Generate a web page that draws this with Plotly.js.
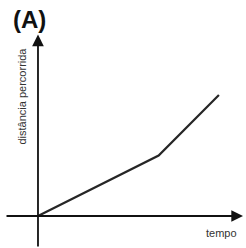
<!DOCTYPE html>
<html>
<head>
<meta charset="utf-8">
<script src="https://cdn.plot.ly/plotly-3.0.1.min.js"></script>
<style>html,body{margin:0;padding:0;background:#fff;}#chart{width:246px;height:248px;}</style>
</head>
<body>
<div id="chart"></div>
<script>
// Data: distance travelled vs time (arbitrary units)
const tempo = [0, 2, 3];
const distancia = [0, 1, 2];
const panelLabel = "(A)";
const xLabel = "tempo";
const yLabel = "distância percorrida";

const W = 246, H = 248;
const xRange = [-0.63, 3.449];
const yRange = [-0.529, 3.57];

const trace = {
  x: tempo, y: distancia, type: "scatter", mode: "lines",
  line: {color: "#262626", width: 2.2}, hoverinfo: "skip"
};

function arrow(x, y, ax, ay) {
  return {x: x, y: y, ax: ax, ay: ay, xref: "x", yref: "y", axref: "x", ayref: "y",
    text: "", showarrow: true, arrowhead: 2, arrowsize: 1.3, arrowwidth: 1.8, arrowcolor: "#111", standoff: 0, startstandoff: 0};
}

const layout = {
  width: W, height: H,
  margin: {l: 0, r: 0, t: 0, b: 0},
  paper_bgcolor: "#fff", plot_bgcolor: "#fff",
  showlegend: false,
  xaxis: {range: xRange, visible: false, fixedrange: true},
  yaxis: {range: yRange, visible: false, fixedrange: true},
  annotations: [
    arrow(3.40, 0, -0.547, 0),
    arrow(0, 3.0, 0, -0.53),
    {xref: "paper", yref: "paper", x: 29/W, y: 1 - 19/H, text: "<b>" + panelLabel + "</b>", showarrow: false,
     font: {family: "Liberation Sans, Arial, sans-serif", size: 24, color: "#111"}, xanchor: "center", yanchor: "middle"},
    {xref: "paper", yref: "paper", x: 221/W, y: 1 - 233/H, text: xLabel, showarrow: false,
     font: {family: "Liberation Sans, Arial, sans-serif", size: 11, color: "#333"}, xanchor: "center", yanchor: "middle"},
    {xref: "paper", yref: "paper", x: 21.5/W, y: 1 - 96/H, text: yLabel, showarrow: false, textangle: -90,
     font: {family: "Liberation Sans, Arial, sans-serif", size: 11, color: "#333"}, xanchor: "center", yanchor: "middle"}
  ]
};

Plotly.newPlot("chart", [trace], layout, {staticPlot: true, displayModeBar: false});
</script>
</body>
</html>
